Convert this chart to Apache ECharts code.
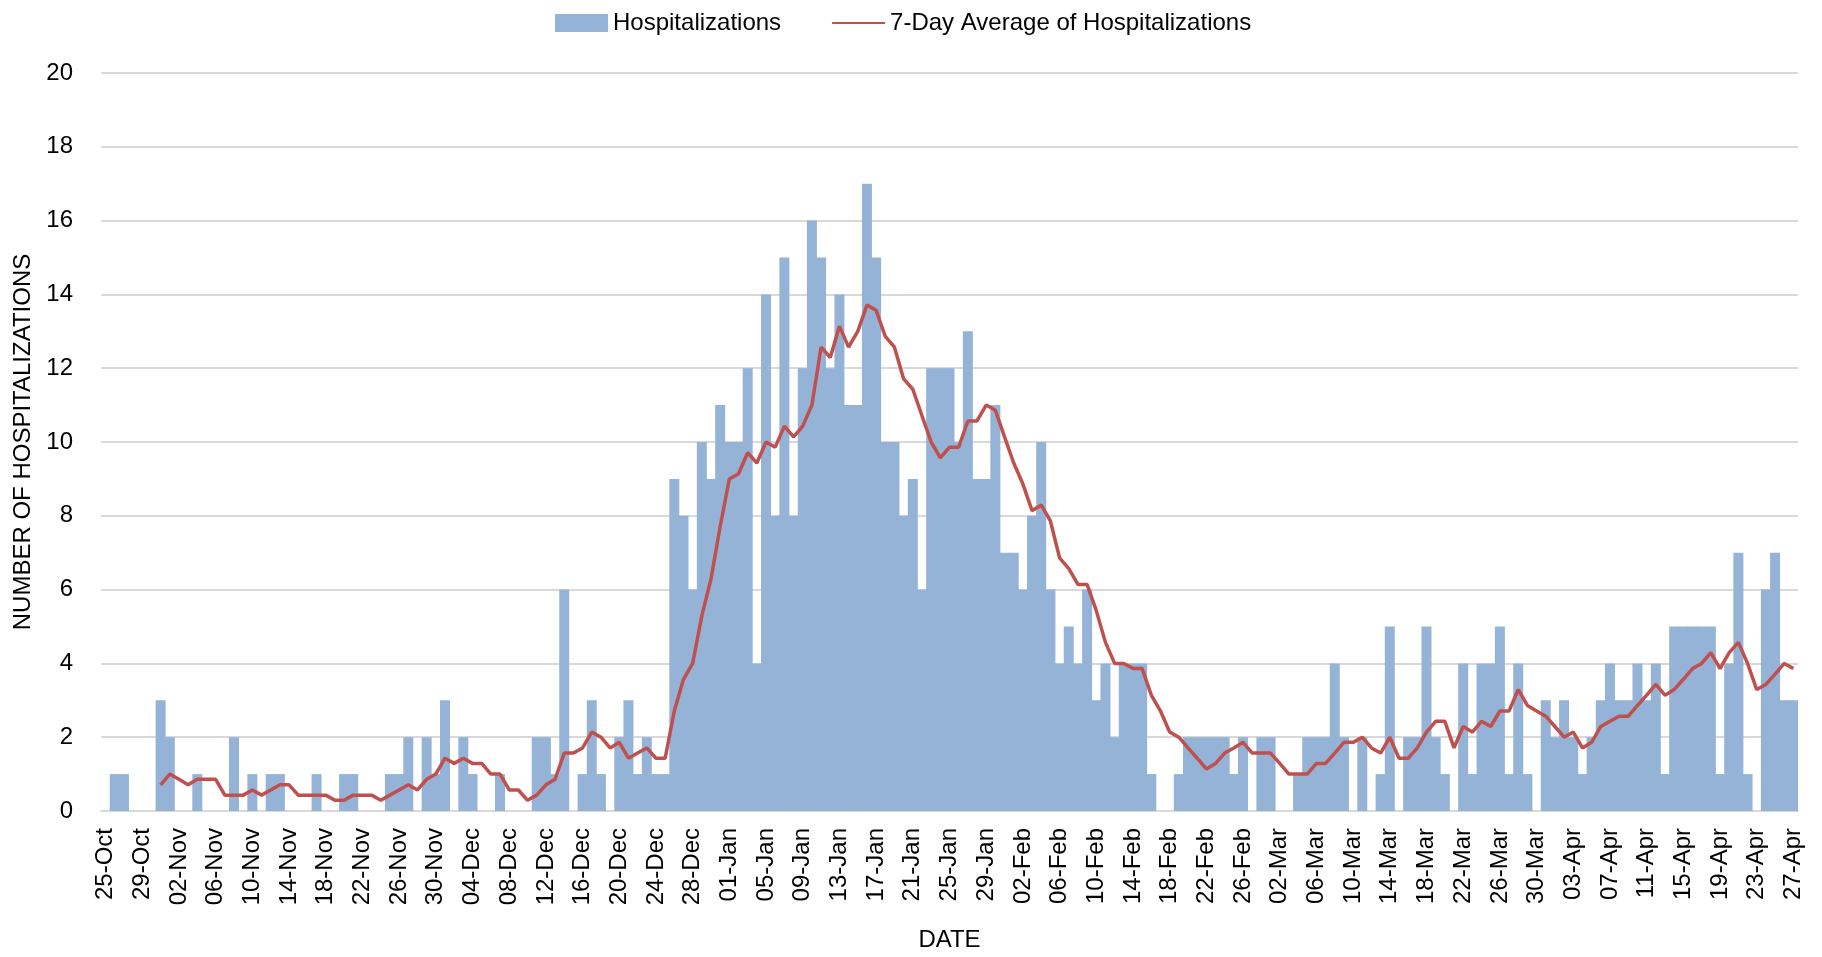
<!DOCTYPE html>
<html>
<head>
<meta charset="utf-8">
<title>Hospitalizations</title>
<script src="https://cdn.jsdelivr.net/npm/echarts/dist/echarts.min.js"></script>
<style>
    html, body { margin: 0; padding: 0; background: #fff; }
    .Hosp { width: 1822px; height: 957px; }
</style>
</head>
<body>
<div class="Hosp"></div>
<script>
// month, first day, last day shown on the date axis
var monthSpans = [['Oct', 25, 31], ['Nov', 1, 30], ['Dec', 1, 31], ['Jan', 1, 31], ['Feb', 1, 28], ['Mar', 1, 31], ['Apr', 1, 27]];

// daily hospitalizations, one row per month
var hospitalizations = [].concat(
    [0, 1, 1, 0, 0, 0, 3],
    [2, 0, 0, 1, 0, 0, 0, 2, 0, 1, 0, 1, 1, 0, 0, 0, 1, 0, 0, 1, 1, 0, 0, 0, 1, 1, 2, 0, 2, 1],
    [3, 0, 2, 1, 0, 0, 1, 0, 0, 0, 2, 2, 1, 6, 0, 1, 3, 1, 0, 2, 3, 1, 2, 1, 1, 9, 8, 6, 10, 9, 11],
    [10, 10, 12, 4, 14, 8, 15, 8, 12, 16, 15, 12, 14, 11, 11, 17, 15, 10, 10, 8, 9, 6, 12, 12, 12, 10, 13, 9, 9, 11, 7],
    [7, 6, 8, 10, 6, 4, 5, 4, 6, 3, 4, 2, 4, 4, 4, 1, 0, 0, 1, 2, 2, 2, 2, 2, 1, 2, 0, 2],
    [2, 0, 0, 1, 2, 2, 2, 4, 2, 0, 2, 0, 1, 5, 0, 2, 2, 5, 2, 1, 0, 4, 1, 4, 4, 5, 1, 4, 1, 0, 3],
    [2, 3, 2, 1, 2, 3, 4, 3, 3, 4, 3, 4, 1, 5, 5, 5, 5, 5, 1, 4, 7, 1, 0, 6, 7, 3, 3]
);

// 7-day average line
var sevenDayAvg = [].concat(
    ['-', '-', '-', '-', '-', '-', 0.71],
    [1.00, 0.86, 0.71, 0.86, 0.86, 0.86, 0.43, 0.43, 0.43, 0.57, 0.43, 0.57, 0.71, 0.71, 0.43, 0.43, 0.43, 0.43, 0.29, 0.29, 0.43, 0.43, 0.43, 0.29, 0.43, 0.57, 0.71, 0.57, 0.86, 1.00],
    [1.43, 1.29, 1.43, 1.29, 1.29, 1.00, 1.00, 0.57, 0.57, 0.29, 0.43, 0.71, 0.86, 1.57, 1.57, 1.71, 2.14, 2.00, 1.71, 1.86, 1.43, 1.57, 1.71, 1.43, 1.43, 2.71, 3.57, 4.00, 5.29, 6.29, 7.71],
    [9.00, 9.14, 9.71, 9.43, 10.00, 9.86, 10.43, 10.14, 10.43, 11.00, 12.57, 12.29, 13.14, 12.57, 13.00, 13.71, 13.57, 12.86, 12.57, 11.71, 11.43, 10.71, 10.00, 9.57, 9.86, 9.86, 10.57, 10.57, 11.00, 10.86, 10.14],
    [9.43, 8.86, 8.14, 8.29, 7.86, 6.86, 6.57, 6.14, 6.14, 5.43, 4.57, 4.00, 4.00, 3.86, 3.86, 3.14, 2.71, 2.14, 2.00, 1.71, 1.43, 1.14, 1.29, 1.57, 1.71, 1.86, 1.57, 1.57],
    [1.57, 1.29, 1.00, 1.00, 1.00, 1.29, 1.29, 1.57, 1.86, 1.86, 2.00, 1.71, 1.57, 2.00, 1.43, 1.43, 1.71, 2.14, 2.43, 2.43, 1.71, 2.29, 2.14, 2.43, 2.29, 2.71, 2.71, 3.29, 2.86, 2.71, 2.57],
    [2.29, 2.00, 2.14, 1.71, 1.86, 2.29, 2.43, 2.57, 2.57, 2.86, 3.14, 3.43, 3.14, 3.29, 3.57, 3.86, 4.00, 4.29, 3.86, 4.29, 4.57, 4.00, 3.29, 3.43, 3.71, 4.00, 3.86]
);

var yTicks = { min: 0, max: 20, step: 2 };

(function () {
    var myChart = echarts.init(document.querySelector(".Hosp"));

    // date labels like 25-Oct, 02-Nov
    var dates = [];
    monthSpans.forEach(function (m) {
        for (var d = m[1]; d <= m[2]; d++) {
            dates.push((d < 10 ? '0' + d : '' + d) + '-' + m[0]);
        }
    });

    var font = 'Liberation Sans, Arial, sans-serif';

    var option = {
        animation: false,
        backgroundColor: '#fff',
        textStyle: { fontFamily: font, color: '#000' },
        legend: {
            top: 6,
            left: 550,
            itemGap: 50,
            itemWidth: 53,
            itemHeight: 18,
            textStyle: { fontSize: 24, color: '#000', fontFamily: font },
            data: [
                { name: 'Hospitalizations', icon: 'rect' },
                // line only, no dot
                { name: '7-Day Average of Hospitalizations', itemStyle: { opacity: 0 } }
            ]
        },
        grid: {
            left: 101,
            right: 24,
            top: 73,
            bottom: 137
        },
        xAxis: {
            type: 'category',
            data: dates,
            name: 'DATE',
            nameLocation: 'middle',
            nameGap: 117,
            nameTextStyle: { fontSize: 24, color: '#000', fontFamily: font },
            axisTick: { show: false },
            axisLine: { lineStyle: { color: '#D9D9D9', width: 2 } },
            axisLabel: {
                interval: 3,
                rotate: 90,
                margin: 17,
                fontSize: 24,
                color: '#000',
                fontFamily: font
            }
        },
        yAxis: {
            type: 'value',
            min: yTicks.min,
            max: yTicks.max,
            interval: yTicks.step,
            name: 'NUMBER OF HOSPITALIZATIONS',
            nameLocation: 'middle',
            nameGap: 64,
            nameTextStyle: { fontSize: 24, color: '#000', fontFamily: font },
            axisLine: { show: false },
            axisTick: { show: false },
            axisLabel: { margin: 28, fontSize: 24, color: '#000', fontFamily: font },
            splitLine: { lineStyle: { color: '#D9D9D9', width: 2 } }
        },
        series: [{
            name: 'Hospitalizations',
            type: 'bar',
            // a touch wider than one day so neighbouring days butt together
            barWidth: 10,
            itemStyle: { color: '#95B3D7' },
            data: hospitalizations
        }, {
            name: '7-Day Average of Hospitalizations',
            type: 'line',
            symbol: 'none',
            smooth: false,
            z: 5,
            lineStyle: { color: '#C0504D', width: 3.5 },
            itemStyle: { color: '#C0504D' },
            data: sevenDayAvg
        }]
    };

    myChart.setOption(option);
    window.addEventListener("resize", function () {
        myChart.resize();
    });
})();
</script>
</body>
</html>
